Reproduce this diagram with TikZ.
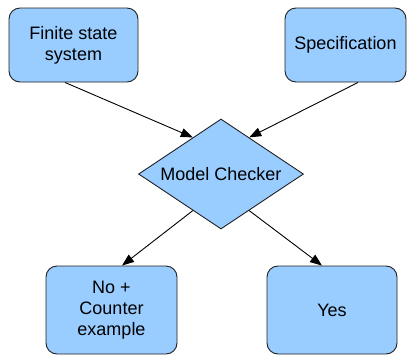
\documentclass[tikz,border=0pt]{standalone}
\usepackage{fontspec}
\setmainfont{Liberation Sans}
\usetikzlibrary{shapes.geometric,arrows.meta,calc}
\definecolor{boxfill}{HTML}{99CCFF}
\definecolor{edge}{HTML}{202020}
\tikzset{
  stepbox/.style={draw=edge, fill=boxfill, line width=0.9pt, rounded corners=11pt,
    align=center, font=\fontsize{18}{21}\selectfont, inner sep=0pt},
  decision/.style={draw=edge, fill=boxfill, line width=0.9pt, diamond, aspect=1.5,
    minimum width=165pt, minimum height=110pt, inner sep=0pt, font=\fontsize{18}{21}\selectfont},
  flow/.style={draw=black, line width=0.9pt, -{Triangle[length=12pt,width=9pt]}}
}
\begin{document}
\begin{tikzpicture}[x=1pt,y=-1pt]
  \useasboundingbox (0,0) rectangle (407,354);
  \clip (0,0) rectangle (407,354);
  \node[stepbox, minimum width=129pt, minimum height=74pt] (fss) at (73.5,45) {Finite state\\system};
  \node[stepbox, minimum width=121pt, minimum height=74pt] (spec) at (345.5,45) {Specification};
  \node[decision] (mc) at (221,174) {Model Checker};
  \node[stepbox, minimum width=131pt, minimum height=88pt] (no) at (111.5,310) {No +\\Counter\\example};
  \node[stepbox, minimum width=130pt, minimum height=88pt] (yes) at (332,310) {Yes};
  \draw[flow] ([xshift=-8.5pt]fss.south) -- ($(mc.north)!0.34!(mc.west)$);
  \draw[flow] ([xshift=12.5pt]spec.south) -- ($(mc.north)!0.34!(mc.east)$);
  \draw[flow] ($(mc.south)!0.34!(mc.west)$) -- ([xshift=10.5pt]no.north);
  \draw[flow] ($(mc.south)!0.34!(mc.east)$) -- ([xshift=-10pt]yes.north);
\end{tikzpicture}
\end{document}
